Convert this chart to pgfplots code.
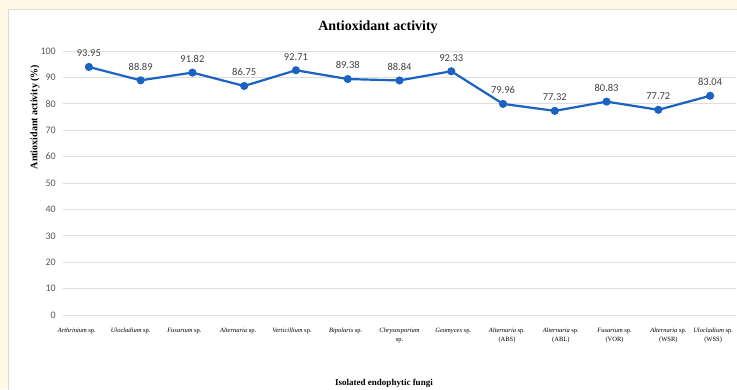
\documentclass[border=0pt]{standalone}
\usepackage{pgfplots}
\pgfplotsset{compat=1.18}
\usepackage{fontspec}
\setmainfont{Liberation Serif}
\newfontfamily\calibri{Carlito}
\definecolor{cream}{HTML}{FFF9E6}
\definecolor{framec}{HTML}{D9D9D9}
\definecolor{gridc}{HTML}{DDDDDD}
\definecolor{lineblue}{HTML}{1B62C2}
\definecolor{ticktxt}{HTML}{595959}
\definecolor{lbltxt}{HTML}{404040}
\pgfplotstableread{
x y lab
0 93.95 93.95
1 88.89 88.89
2 91.82 91.82
3 86.75 86.75
4 92.71 92.71
5 89.38 89.38
6 88.84 88.84
7 92.33 92.33
8 79.96 79.96
9 77.32 77.32
10 80.83 80.83
11 77.72 77.72
12 83.04 83.04
}\datatable
\begin{document}
\begin{tikzpicture}[x=1pt,y=1pt]
\useasboundingbox (0,0) rectangle (737,389);
\clip (0,0) rectangle (737,389);
\fill[cream] (0,0) rectangle (737,389);
\fill[white] (8,0) rectangle (737,379);
\draw[framec, line width=1pt] (8,-1) -- (8,379) -- (738,379);
\begin{axis}[
  scale only axis, width=673pt, height=264pt,
  at={(63pt,74pt)}, anchor=south west,
  xmin=-0.5, xmax=12.5, ymin=0, ymax=100,
  ytick={0,10,...,100},
  ymajorgrids, major grid style={gridc, line width=0.8pt},
  axis line style={draw=none}, major tick length=0pt,
  xtick={0,...,12},
  xticklabels={
    {\textit{Arthrinium} sp.},
    {\textit{Ulocladium} sp.},
    {\textit{Fusarium} sp.},
    {\textit{Alternaria} sp.},
    {\textit{Verticillium} sp.},
    {\textit{Bipolaris} sp.},
    {\textit{Chrysosporium}\\sp.},
    {\textit{Geomyces} sp.},
    {\textit{Alternaria} sp.\\(ABS)},
    {\textit{Alternaria} sp.\\(ABL)},
    {\textit{Fusarium} sp.\\(VOR)},
    {\textit{Alternaria} sp.\\(WSR)},
    {\textit{Ulocladium} sp.\\(WSS)}},
  xticklabel style={align=center, font=\fontsize{6.5}{9}\selectfont, color=black,
    anchor=north, inner sep=0pt, yshift=-13pt,
    xshift={(-12+2*\ticknum-9*(\ticknum==12))*1pt}},
  yticklabel style={font=\calibri\fontsize{10}{12}\selectfont, color=ticktxt,
    anchor=east, inner sep=0pt, xshift=-7pt},
  /pgf/number format/assume math mode=true,
  clip=false,
]
\addplot[color=lineblue, line width=2.2pt, mark=*, mark size=2.9pt,
  mark options={solid, fill=lineblue, draw=none},
  nodes near coords, point meta=explicit symbolic,
  every node near coord/.append style={font=\calibri\fontsize{10.5}{12}\selectfont,
    color=lbltxt, anchor=south, inner sep=0pt, yshift=9pt}]
  table[x=x, y=y, meta=lab]{\datatable};
\end{axis}
\node[font=\bfseries\fontsize{14}{16}\selectfont] at (378,362) {Antioxidant activity};
\node[font=\bfseries\fontsize{10}{12}\selectfont, rotate=90] at (35,272) {Antioxidant activity (\%)};
\node[font=\bfseries\fontsize{9}{11}\selectfont] at (384,6) {Isolated endophytic fungi};
\end{tikzpicture}
\end{document}
